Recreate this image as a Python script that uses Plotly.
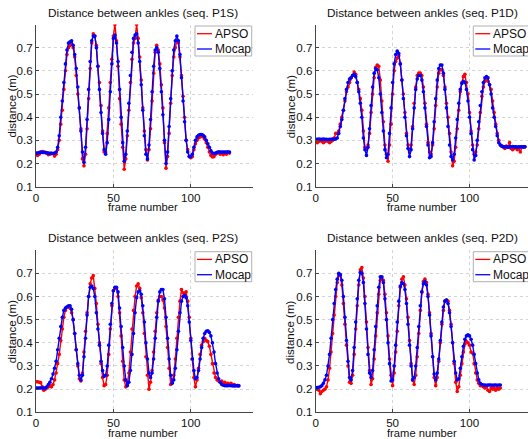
import plotly.graph_objects as go

# ---------------- data (distance in m, one value per frame) ----------------
p1s_mocap = [0.245,0.245,0.247,0.248,0.248,0.248,0.247,0.246,0.245,0.244,0.243,0.243,0.245,
             0.25,0.27,0.32,0.40,0.47,0.55,0.63,0.69,0.72,0.725,
             0.73,0.71,0.67,0.61,0.53,0.44,0.34,0.25,0.205,0.27,
             0.39,0.52,0.64,0.73,0.75,0.75,0.70,0.62,0.52,0.42,
             0.33,0.26,0.24,0.29,0.39,0.51,0.63,0.74,0.755,0.72,
             0.64,0.52,0.40,0.29,0.21,0.24,0.34,0.46,0.58,0.68,
             0.74,0.755,0.76,0.72,0.64,0.54,0.43,0.32,0.24,0.22,
             0.28,0.39,0.51,0.62,0.69,0.70,0.68,0.61,0.51,0.41,
             0.30,0.20,0.25,0.36,0.48,0.60,0.69,0.73,0.75,0.73,
             0.67,0.57,0.47,0.38,0.30,0.25,0.23,0.23,0.24,0.27,
             0.30,0.315,0.322,0.325,0.325,0.322,0.315,0.30,0.285,0.27,
             0.255,0.245,0.243,0.245,0.248,0.25,0.25,0.249,0.25,0.25,0.249,0.25,0.25]
p1s_apso = [0.24,0.235,0.24,0.25,0.252,0.25,0.248,0.245,0.238,0.24,0.245,0.242,0.232,
            0.24,0.26,0.30,0.37,0.43,0.52,0.60,0.67,0.70,0.71,
            0.715,0.70,0.66,0.58,0.50,0.44,0.35,0.22,0.19,0.24,
            0.35,0.48,0.61,0.72,0.76,0.75,0.71,0.62,0.55,0.45,
            0.34,0.25,0.25,0.33,0.44,0.55,0.65,0.75,0.80,0.73,
            0.62,0.48,0.37,0.27,0.175,0.22,0.32,0.43,0.55,0.65,
            0.72,0.74,0.80,0.74,0.66,0.56,0.44,0.34,0.26,0.215,
            0.26,0.35,0.47,0.59,0.68,0.71,0.69,0.63,0.54,0.44,
            0.29,0.18,0.23,0.33,0.46,0.58,0.66,0.70,0.73,0.72,
            0.66,0.58,0.49,0.40,0.30,0.26,0.23,0.225,0.23,0.26,
            0.285,0.30,0.31,0.315,0.318,0.315,0.305,0.29,0.27,0.25,
            0.235,0.228,0.23,0.24,0.245,0.25,0.24,0.245,0.238,0.245,0.24,0.25,0.245]

p1d_mocap = [0.305,0.305,0.306,0.305,0.305,0.306,0.305,0.305,0.304,0.305,0.305,0.306,0.305,0.306,
             0.31,0.33,0.36,0.39,0.43,0.48,0.52,0.55,0.565,0.57,
             0.58,0.585,0.575,0.55,0.51,0.46,0.40,0.31,0.26,0.235,
             0.27,0.35,0.45,0.53,0.59,0.61,0.605,0.57,0.50,0.42,
             0.34,0.26,0.225,0.24,0.33,0.44,0.55,0.63,0.67,0.685,
             0.675,0.63,0.56,0.48,0.40,0.32,0.265,0.23,0.26,0.35,
             0.44,0.52,0.565,0.58,0.58,0.56,0.51,0.44,0.36,0.28,
             0.225,0.23,0.29,0.38,0.48,0.56,0.61,0.625,0.625,0.59,
             0.52,0.44,0.36,0.28,0.23,0.215,0.24,0.31,0.39,0.46,
             0.52,0.545,0.555,0.55,0.52,0.47,0.40,0.33,0.26,0.215,
             0.235,0.30,0.38,0.45,0.51,0.55,0.57,0.575,0.57,0.54,
             0.50,0.44,0.40,0.36,0.32,0.29,0.28,0.275,0.272,0.272,
             0.272,0.271,0.272,0.272,0.273,0.272,0.272,0.271,0.272,0.272,0.272,0.272,0.272]
p1d_apso = [0.295,0.29,0.295,0.30,0.295,0.29,0.295,0.30,0.295,0.29,0.295,0.30,0.31,0.33,
            0.33,0.34,0.37,0.40,0.43,0.47,0.51,0.53,0.55,0.57,
            0.58,0.595,0.585,0.55,0.52,0.48,0.43,0.34,0.27,0.26,
            0.28,0.33,0.42,0.50,0.57,0.615,0.625,0.62,0.56,0.47,
            0.38,0.28,0.24,0.21,0.28,0.37,0.50,0.60,0.64,0.655,
            0.665,0.63,0.56,0.50,0.42,0.33,0.28,0.25,0.28,0.36,
            0.46,0.53,0.58,0.59,0.59,0.58,0.53,0.46,0.37,0.29,
            0.25,0.24,0.28,0.35,0.45,0.53,0.59,0.605,0.605,0.58,
            0.53,0.46,0.40,0.33,0.25,0.19,0.21,0.27,0.35,0.43,
            0.51,0.55,0.575,0.585,0.55,0.50,0.42,0.34,0.28,0.24,
            0.25,0.28,0.35,0.42,0.49,0.53,0.555,0.56,0.555,0.54,
            0.52,0.47,0.42,0.37,0.33,0.30,0.28,0.275,0.27,0.265,
            0.275,0.27,0.29,0.265,0.26,0.265,0.27,0.26,0.265,0.25,0.27,0.27,0.272]

p2s_mocap = [0.205,0.205,0.205,0.205,0.205,0.205,0.205,
             0.21,0.22,0.23,0.245,0.265,0.29,0.32,0.37,0.42,0.47,
             0.51,0.54,0.55,0.555,0.56,0.56,0.545,0.50,0.44,0.37,
             0.31,0.26,0.24,0.26,0.34,0.42,0.52,0.60,0.64,0.645,
             0.635,0.60,0.53,0.46,0.39,0.32,0.28,0.255,0.26,0.30,
             0.39,0.48,0.57,0.625,0.64,0.64,0.62,0.55,0.47,0.38,
             0.30,0.24,0.215,0.23,0.28,0.35,0.44,0.53,0.595,0.62,
             0.625,0.61,0.56,0.49,0.40,0.33,0.27,0.25,0.27,0.33,
             0.42,0.51,0.58,0.62,0.63,0.63,0.59,0.51,0.42,0.33,
             0.26,0.225,0.24,0.29,0.37,0.45,0.53,0.58,0.60,0.605,
             0.595,0.56,0.49,0.41,0.33,0.28,0.245,0.25,0.28,0.33,
             0.38,0.42,0.44,0.45,0.452,0.445,0.43,0.40,0.36,0.31,
             0.27,0.245,0.23,0.22,0.217,0.215,0.215,0.215,0.216,0.215,0.215,0.214,0.215,0.215,0.214]
p2s_apso = [0.232,0.232,0.23,0.228,0.21,0.195,0.20,0.205,0.21,0.215,
            0.21,0.22,0.24,0.27,0.31,0.35,0.41,0.46,0.51,0.54,
            0.555,0.555,0.55,0.53,0.50,0.44,0.37,0.30,0.245,0.235,
            0.27,0.36,0.45,0.53,0.60,0.655,0.68,0.69,0.635,0.57,
            0.48,0.40,0.31,0.25,0.215,0.22,0.26,0.35,0.46,0.56,
            0.625,0.635,0.635,0.60,0.53,0.43,0.32,0.24,0.21,0.22,
            0.27,0.36,0.46,0.54,0.60,0.645,0.655,0.635,0.595,0.53,
            0.44,0.34,0.26,0.20,0.23,0.28,0.36,0.45,0.53,0.585,
            0.60,0.60,0.585,0.55,0.47,0.38,0.29,0.22,0.23,0.26,
            0.33,0.42,0.51,0.58,0.63,0.615,0.615,0.62,0.58,0.51,
            0.42,0.33,0.25,0.21,0.24,0.29,0.35,0.39,0.405,0.42,
            0.41,0.405,0.385,0.35,0.31,0.27,0.25,0.24,0.235,0.23,
            0.235,0.225,0.23,0.22,0.225,0.22,0.225,0.215,0.22,0.215,0.215,0.215]

p2d_mocap = [0.207,0.207,0.208,0.21,
             0.215,0.225,0.24,0.26,0.30,0.35,0.42,0.50,0.57,0.63,
             0.675,0.70,0.695,0.67,0.60,0.51,0.41,0.32,0.25,0.24,
             0.28,0.38,0.49,0.59,0.67,0.705,0.70,0.66,0.57,0.46,
             0.35,0.27,0.25,0.28,0.37,0.47,0.56,0.64,0.685,0.685,
             0.66,0.59,0.50,0.40,0.31,0.235,0.24,0.30,0.39,0.49,
             0.58,0.645,0.66,0.655,0.63,0.57,0.48,0.39,0.30,0.24,
             0.25,0.30,0.38,0.47,0.56,0.62,0.655,0.665,0.65,0.60,
             0.52,0.43,0.34,0.265,0.24,0.27,0.33,0.41,0.49,0.555,
             0.58,0.585,0.57,0.53,0.47,0.40,0.32,0.27,0.24,0.245,
             0.29,0.34,0.385,0.415,0.43,0.435,0.43,0.415,0.39,0.35,
             0.31,0.27,0.24,0.225,0.22,0.218,0.218,0.217,0.218,0.218,
             0.218,0.217,0.218,0.218,0.217,0.218,0.218]
p2d_apso = [0.20,0.20,0.195,0.18,0.19,0.195,0.20,0.21,0.24,0.29,
            0.36,0.44,0.52,0.60,0.66,0.695,0.69,0.65,0.57,0.48,
            0.39,0.30,0.23,0.225,0.26,0.35,0.46,0.56,0.65,0.715,
            0.725,0.68,0.60,0.49,0.38,0.28,0.22,0.245,0.33,0.43,
            0.53,0.61,0.67,0.68,0.67,0.61,0.53,0.43,0.33,0.26,
            0.215,0.27,0.36,0.45,0.56,0.64,0.675,0.685,0.65,0.59,
            0.51,0.41,0.31,0.24,0.22,0.26,0.34,0.44,0.54,0.62,
            0.665,0.675,0.66,0.61,0.53,0.44,0.34,0.25,0.215,0.25,
            0.32,0.40,0.48,0.54,0.58,0.585,0.58,0.54,0.48,0.40,
            0.31,0.23,0.19,0.21,0.26,0.31,0.36,0.395,0.405,0.40,
            0.39,0.36,0.355,0.31,0.27,0.24,0.225,0.215,0.215,0.21,
            0.205,0.21,0.195,0.19,0.205,0.20,0.205,0.195,0.205,0.20,0.205]

seq_names = ["P1S", "P1D", "P2S", "P2D"]
series_names = ["APSO", "Mocap"]
x_ticks = [0, 50, 100]
y_ticks = [0.1, 0.2, 0.3, 0.4, 0.5, 0.6, 0.7]

panels = [(p1s_apso, p1s_mocap), (p1d_apso, p1d_mocap),
          (p2s_apso, p2s_mocap), (p2d_apso, p2d_mocap)]

# ---------------- layout geometry (pixels) ----------------
W, H = 528, 439
FONT = "Liberation Sans, Arial, Helvetica, sans-serif"
RED, BLUE = "#ff0000", "#0000ff"

def px(x):
    return x / W

def py(y):
    return 1 - y / H

col_x = [(36.0, 252.7, 140.0), (315.7, 528.0, 138.0)]   # left px, right px, xmax
col_center = [143.0, 422.0]
col_ytitle = [12.0, 290.7]
row_y = [(24.5, 186.7), (250.2, 412.3)]                  # top px, bottom px

fig = go.Figure()
annotations = []
shapes = []

for i, (apso, mocap) in enumerate(panels):
    r, c = divmod(i, 2)
    xl, xr, xmax = col_x[c]
    yt, yb = row_y[r]
    k = "" if i == 0 else str(i + 1)
    xa, ya = "x" + k, "y" + k

    frames = list(range(len(apso)))
    fig.add_trace(go.Scatter(x=frames, y=apso, mode="lines+markers", name="APSO",
                             line=dict(color=RED, width=1.4),
                             marker=dict(color=RED, size=3.6),
                             xaxis=xa, yaxis=ya, showlegend=False))
    frames_m = list(range(len(mocap)))
    fig.add_trace(go.Scatter(x=frames_m, y=mocap, mode="lines+markers", name="Mocap",
                             line=dict(color=BLUE, width=1.4),
                             marker=dict(color=BLUE, size=3.6),
                             xaxis=xa, yaxis=ya, showlegend=False))

    axcommon = dict(showline=True, linecolor="#444", linewidth=1, mirror=False,
                    ticks="inside", ticklen=3, tickcolor="#444",
                    showgrid=True, gridcolor="#d4d4d4", griddash="dot", gridwidth=1,
                    zeroline=False, automargin=False,
                    tickfont=dict(family=FONT, size=11.6, color="#111"))
    fig.layout["xaxis" + k] = dict(domain=[px(xl), px(xr)], range=[0, xmax],
                                   tickvals=x_ticks, anchor=ya, **axcommon)
    fig.layout["yaxis" + k] = dict(domain=[py(yb), py(yt)], range=[0.1, 0.8],
                                   tickvals=y_ticks, tickformat=".1f", anchor=xa,
                                   **axcommon)

    # titles
    annotations.append(dict(text="Distance between ankles (seq. %s)" % seq_names[i],
                            x=px(col_center[c]), y=py(yt - 11.8),
                            xref="paper", yref="paper",
                            showarrow=False, xanchor="center", yanchor="middle",
                            font=dict(family=FONT, size=11.8, color="#111")))
    annotations.append(dict(text="frame number", x=px(col_center[c]),
                            y=py(yb + 20.5), xref="paper", yref="paper",
                            showarrow=False, xanchor="center", yanchor="middle",
                            font=dict(family=FONT, size=11.2, color="#111")))
    annotations.append(dict(text="distance (m)", x=px(col_ytitle[c]),
                            y=py((yt + yb) / 2 + 1), xref="paper", yref="paper",
                            showarrow=False, xanchor="center", yanchor="middle",
                            textangle=-90,
                            font=dict(family=FONT, size=11.5, color="#111")))

    # legend box
    lx0 = 195.0 if c == 0 else 473.3
    ly0 = yt + 1.5
    shapes.append(dict(type="rect", xref="paper", yref="paper",
                       x0=px(lx0), x1=px(lx0 + 56.7), y0=py(ly0), y1=py(ly0 + 30),
                       line=dict(color="#b0b0b0", width=1), fillcolor="white", layer="above"))
    for j, (nm, colr) in enumerate(zip(series_names, [RED, BLUE])):
        ly = ly0 + 7.7 + j * 15.3
        shapes.append(dict(type="line", xref="paper", yref="paper",
                           x0=px(lx0 + 2), x1=px(lx0 + 17), y0=py(ly), y1=py(ly),
                           line=dict(color=colr, width=1.3), layer="above"))
        annotations.append(dict(text=nm, x=px(lx0 + 17.5), y=py(ly),
                                xref="paper", yref="paper", showarrow=False,
                                xanchor="left", yanchor="middle",
                                font=dict(family=FONT, size=12, color="#111")))

fig.update_layout(width=W, height=H, margin=dict(l=0, r=0, t=0, b=0),
                  paper_bgcolor="white", plot_bgcolor="white",
                  showlegend=False, annotations=annotations, shapes=shapes,
                  font=dict(family=FONT, size=12, color="#111"))

fig.write_html("out.html", config={"displayModeBar": False},
               post_script="document.body.style.margin='0px';"
                           "document.body.style.overflow='hidden';")
